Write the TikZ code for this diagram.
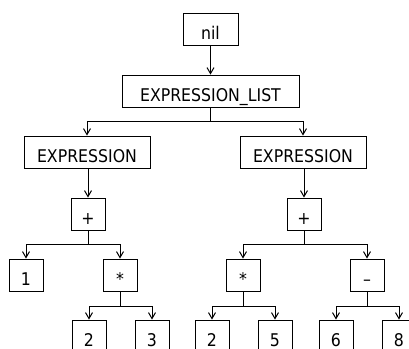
\documentclass[tikz,border=0pt]{standalone}
\usepackage{fontspec}
\setmainfont{DejaVu Sans Condensed}
\usetikzlibrary{arrows.meta}
\begin{document}
\begin{tikzpicture}[x=1bp,y=-1bp,
  box/.style={draw, line width=0.9bp, minimum height=32bp, inner sep=0pt,
    text height=20.5bp, text depth=0pt,
    font=\fontsize{17.5bp}{20bp}\selectfont},
  sq/.style={box, minimum width=34bp},
  arr/.style={line width=0.9bp, -{Straight Barb[length=6bp,width=7bp,line width=1bp]}}]
\useasboundingbox (0,0) rectangle (409,349);
\begin{scope}
\clip (0,0) rectangle (409,349);
% root and list node
\node[box, minimum width=55bp] (nil) at (210.5,29) {nil};
\node[box, minimum width=177bp] (el) at (210.5,91) {EXPRESSION\_LIST};
% expressions
\node[box, minimum width=126bp] (expL) at (87,152) {EXPRESSION};
\node[box, minimum width=126bp] (expR) at (303,152) {EXPRESSION};
% operators
\node[sq] (plusL) at (88,214) {+};
\node[sq] (plusR) at (304,214) {+};
\node[sq] (one) at (26,275) {1};
\node[sq] (mulL) at (120,275) {*};
\node[sq] (mulR) at (243,275) {*};
\node[sq] (minus) at (367,275) {\textendash};
% leaves
\node[sq] (twoL) at (89,336) {2};
\node[sq] (three) at (152,336) {3};
\node[sq] (twoR) at (212,336) {2};
\node[sq] (five) at (275,336) {5};
\node[sq] (six) at (336,336) {6};
\node[sq] (eight) at (399,336) {8};
% connectors
\draw[arr] (nil.south) -- (el.north);
\draw[arr] (el.south) -- ++(0,14) -| (expL.north);
\draw[arr] (el.south) -- ++(0,14) -| (expR.north);
\draw[arr] (plusL.north |- expL.south) -- (plusL.north);
\draw[arr] (plusR.north |- expR.south) -- (plusR.north);
\draw[arr] (plusL.south) -- ++(0,14) -| (one.north);
\draw[arr] (plusL.south) -- ++(0,14) -| (mulL.north);
\draw[arr] (plusR.south) -- ++(0,14) -| (mulR.north);
\draw[arr] (plusR.south) -- ++(0,14) -| (minus.north);
\draw[arr] (mulL.south) -- ++(0,15) -| (twoL.north);
\draw[arr] (mulL.south) -- ++(0,15) -| (three.north);
\draw[arr] (mulR.south) -- ++(0,15) -| (twoR.north);
\draw[arr] (mulR.south) -- ++(0,15) -| (five.north);
\draw[arr] (minus.south) -- ++(0,15) -| (six.north);
\draw[arr] (minus.south) -- ++(0,15) -| (eight.north);
\end{scope}
\end{tikzpicture}
\end{document}
